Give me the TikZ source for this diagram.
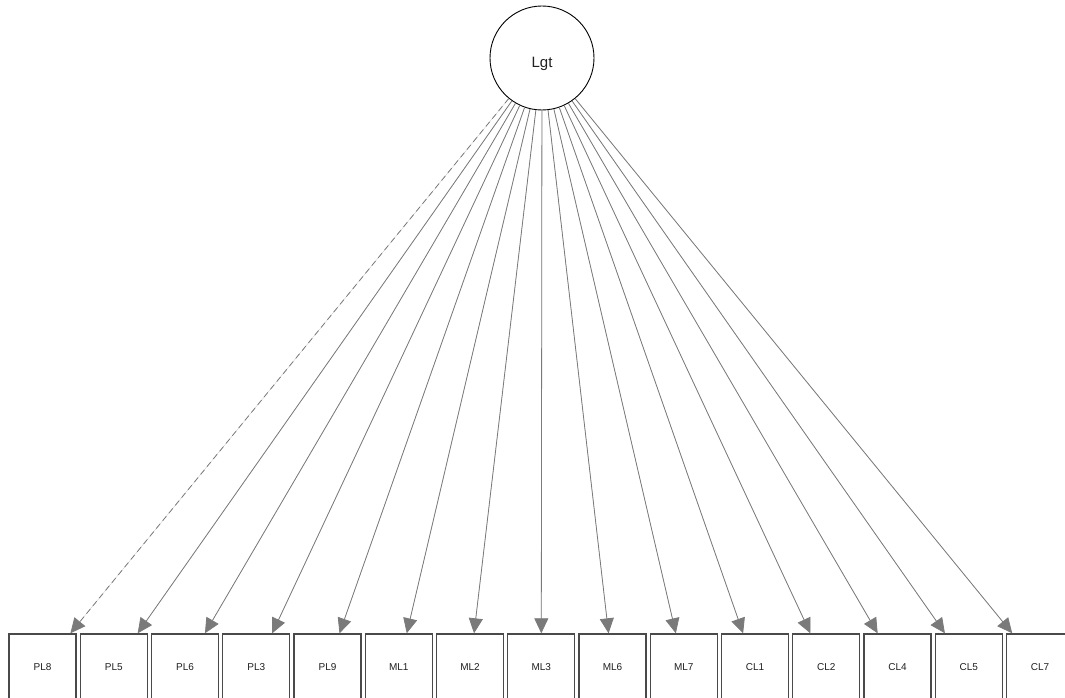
\documentclass[tikz,border=0pt]{standalone}
\usepackage{fontspec}
\setmainfont{Liberation Sans}
\usetikzlibrary{arrows.meta}
\definecolor{edgegray}{HTML}{7A7A7A}
\definecolor{boxgray}{HTML}{4A4A4A}
\definecolor{txtgray}{HTML}{202020}
\begin{document}
\begin{tikzpicture}[x=1pt,y=-1pt,
  latent/.style={circle,draw=black,line width=0.9pt,minimum size=104pt,inner sep=0pt},
  manifest/.style={rectangle,draw=boxgray,line width=1.4pt,minimum width=67pt,minimum height=67pt,inner sep=0pt,font=\fontsize{10}{12}\selectfont,text=txtgray},
  loading/.style={draw=edgegray,line width=0.8pt,-{Triangle[length=15pt,width=14pt]},fill=edgegray},
  fixedload/.style={loading,dashed,dash pattern=on 6pt off 4pt}]
\useasboundingbox (0,0) rectangle (1065,698);
\clip (0,0) rectangle (1065,698);
\fill[white] (0,0) rectangle (1065,698);
\node[latent,label={[font=\fontsize{15}{17}\selectfont,text=txtgray,yshift=-6pt]center:Lgt}] (Lgt) at (542,58) {};
\foreach \name [count=\i from 0] in {PL8,PL5,PL6,PL3,PL9,ML1,ML2,ML3,ML6,ML7,CL1,CL2,CL4,CL5,CL7}{
  \node[manifest] (\name) at ({42.5+71.25*\i},667.5) {\name};
}
\draw[fixedload] (Lgt) -- (PL8);
\foreach \name in {PL5,PL6,PL3,PL9,ML1,ML2,ML3,ML6,ML7,CL1,CL2,CL4,CL5,CL7}{
  \draw[loading] (Lgt) -- (\name);
}
\end{tikzpicture}
\end{document}
